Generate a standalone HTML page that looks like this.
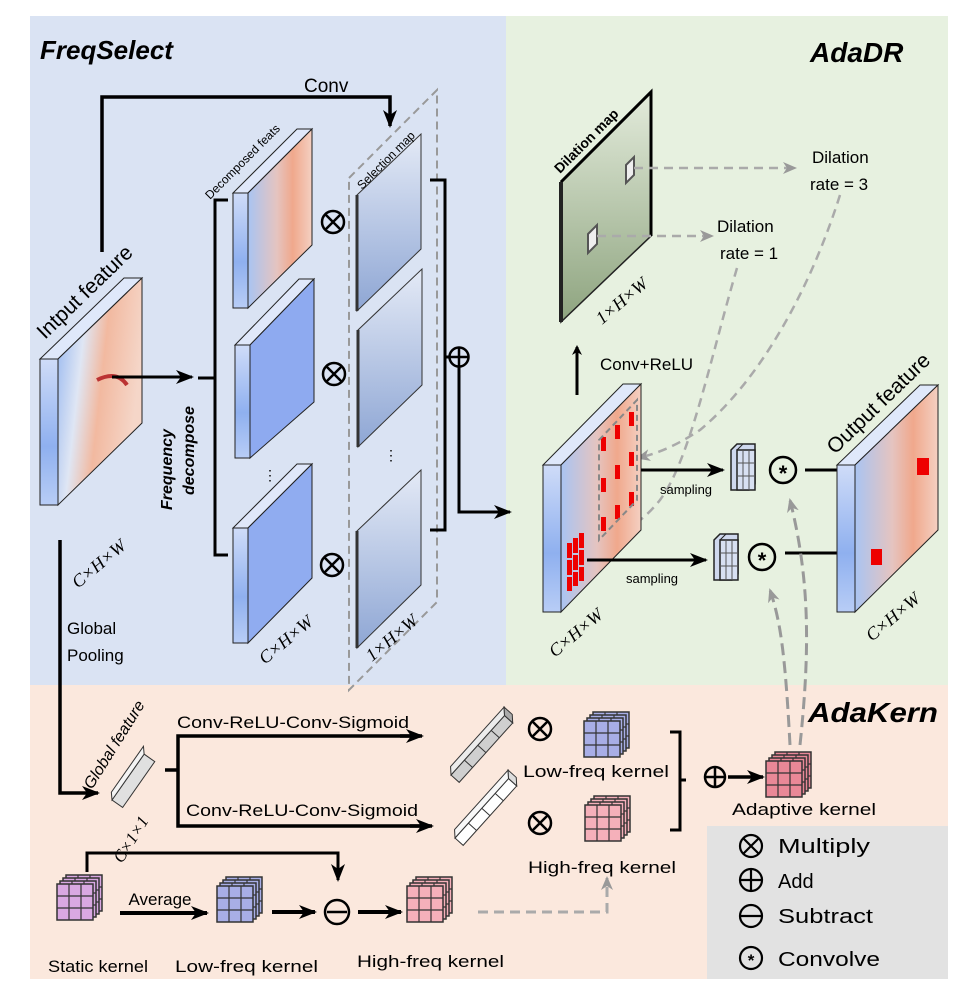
<!DOCTYPE html>
<html><head><meta charset="utf-8"><style>
html,body{margin:0;padding:0;background:#fff}
svg{display:block}
text{font-family:"Liberation Sans",sans-serif}
.s{font-family:"Liberation Serif",serif;font-style:italic}
</style></head><body>
<svg width="978" height="992" viewBox="0 0 978 992" xmlns="http://www.w3.org/2000/svg">
<defs>
<linearGradient id="heat" x1="0" y1="0" x2="1" y2="0.3">
<stop offset="0" stop-color="#8fb2ef"/><stop offset="0.35" stop-color="#dfe6f4"/><stop offset="0.6" stop-color="#f2b9a0"/><stop offset="1" stop-color="#f5d6c8"/></linearGradient>
<linearGradient id="heat2" x1="0" y1="0" x2="1" y2="0">
<stop offset="0" stop-color="#a9c4f2"/><stop offset="0.45" stop-color="#e5c4c0"/><stop offset="0.7" stop-color="#f0a88c"/><stop offset="1" stop-color="#f4d0c2"/></linearGradient>
<linearGradient id="side" x1="0" y1="0" x2="0" y2="1">
<stop offset="0" stop-color="#cfdcf8"/><stop offset="0.6" stop-color="#8fb0ef"/><stop offset="1" stop-color="#b8cdf6"/></linearGradient>
<linearGradient id="sel" x1="0" y1="0" x2="0" y2="1">
<stop offset="0" stop-color="#e4eaf6"/><stop offset="1" stop-color="#8ea6d4"/></linearGradient>
<linearGradient id="dil" x1="0" y1="0" x2="0" y2="1">
<stop offset="0" stop-color="#e3ebdb"/><stop offset="1" stop-color="#8ea47f"/></linearGradient>
<marker id="ar" markerWidth="10" markerHeight="10" refX="8" refY="5" orient="auto" markerUnits="userSpaceOnUse"><path d="M0,0 L10,5 L0,10 L3,5z" fill="#000"/></marker>
<marker id="ag" markerWidth="14" markerHeight="12" refX="12" refY="6" orient="auto" markerUnits="userSpaceOnUse"><path d="M0,0 L14,6 L0,12 L4,6z" fill="#999"/></marker>
<marker id="ab" markerWidth="18" markerHeight="14" refX="16" refY="7" orient="auto" markerUnits="userSpaceOnUse"><path d="M0,0 L18,7 L0,14 L5,7z" fill="#000"/></marker>
<g id="grid"><rect x="0" y="0" width="36" height="36" stroke="#333" stroke-width="1.5"/><path d="M12,0V36M24,0V36M0,12H36M0,24H36" stroke="#333" stroke-width="1.2"/></g>
<g id="smallk"><polygon points="0,10 6,4 24,4 24,44 18,50 0,50" fill="#cfd8ee" stroke="#222" stroke-width="1.5"/><rect x="6" y="10" width="18" height="40" fill="#d8e0f2" stroke="#222" stroke-width="1.5"/><path d="M6,10 L12,4 M24,10 L24,4" stroke="#222"/><path d="M12,10V50M18,10V50M6,23H24M6,36H24" stroke="#555"/></g>
</defs>

<rect x="30" y="16" width="476" height="669" fill="#dae3f3"/>
<rect x="506" y="16" width="442" height="669" fill="#e7f1e0"/>
<rect x="30" y="685" width="918" height="294" fill="#fbe8dd"/>
<rect x="707" y="826" width="241" height="153" fill="#e2e2e2"/>

<text x="40" y="59" font-size="26" font-weight="bold" font-style="italic">FreqSelect</text>
<text x="810" y="62" font-size="28" font-weight="bold" font-style="italic">AdaDR</text>
<text x="808" y="722" font-size="28" font-weight="bold" font-style="italic" textLength="130" lengthAdjust="spacingAndGlyphs">AdaKern</text>

<path d="M102,252 V97 H390 V126" fill="none" stroke="#000" stroke-width="3.5" marker-end="url(#ab)"/>
<text x="304" y="92" font-size="19">Conv</text>

<polygon points="349,178 437,90 437,602 349,690" fill="none" stroke="#999" stroke-width="2" stroke-dasharray="8,5"/>

<polygon points="40,359 58,359 142,278 124,278" fill="#dfe8fa" stroke="#222" stroke-width="1"/>
<rect x="40" y="359" width="18" height="146" fill="url(#side)" stroke="#222" stroke-width="1"/>
<polygon points="58,359 142,278 142,423 58,505" fill="url(#heat)" stroke="#222" stroke-width="1"/>
<path d="M97,380 q20,-10 30,5" stroke="#b33" stroke-width="4" fill="none"/>
<text class="s" font-size="18" transform="translate(78,589) rotate(-40)">C×H×W</text>
<text font-size="21" transform="translate(45,340) rotate(-44)">Intput feature</text>

<path d="M112,377 H192" stroke="#000" stroke-width="3" marker-end="url(#ab)"/>
<path d="M198,378 H215 M228,200 H215 V555 H228" fill="none" stroke="#000" stroke-width="3"/>
<text font-size="16" font-weight="bold" font-style="italic" transform="translate(172,510) rotate(-90)">Frequency</text>
<text font-size="16" font-weight="bold" font-style="italic" transform="translate(194,495) rotate(-90)">decompose</text>

<g stroke="#222" stroke-width="1">
<polygon points="233,193 248,193 312,129 297,129" fill="#e0e8fa"/>
<rect x="233" y="193" width="15" height="115" fill="url(#side)"/>
<polygon points="248,193 312,129 312,245 248,308" fill="url(#heat2)"/>
<polygon points="235,345 250,345 314,279 299,279" fill="#e0e8fa"/>
<rect x="235" y="345" width="15" height="113" fill="url(#side)"/>
<polygon points="250,345 314,279 314,402 250,458" fill="#8eaaf0"/>
<polygon points="233,528 248,528 312,464 297,464" fill="#e0e8fa"/>
<rect x="233" y="528" width="15" height="115" fill="url(#side)"/>
<polygon points="248,528 312,464 312,578 248,643" fill="#90acf0"/>
</g>
<text font-size="12" transform="translate(210,200) rotate(-45)">Decomposed feats</text>
<text font-size="14" x="263" y="480">⋮</text>
<text class="s" font-size="18" transform="translate(265,665) rotate(-40)">C×H×W</text>

<g fill="none" stroke="#000" stroke-width="2.5">
<circle cx="333" cy="222" r="11"/><path d="M325,214 L341,230 M341,214 L325,230"/>
<circle cx="334" cy="374" r="11"/><path d="M326,366 L342,382 M342,366 L326,382"/>
<circle cx="332" cy="565" r="11"/><path d="M324,557 L340,573 M340,557 L324,573"/>
</g>

<g stroke="#333" stroke-width="1">
<polygon points="357,195 421,134 421,249 357,311" fill="url(#sel)"/>
<polygon points="358,330 422,269 422,385 358,447" fill="url(#sel)"/>
<polygon points="357,531 421,470 421,585 357,648" fill="url(#sel)"/>
</g>
<path d="M357,195 V311 M358,330 V447 M357,531 V648" stroke="#333" stroke-width="3"/>
<text font-size="12" transform="translate(362,190) rotate(-45)">Selection map</text>
<text font-size="14" x="384" y="460">⋮</text>
<text class="s" font-size="18" transform="translate(372,662) rotate(-40)">1×H×W</text>

<path d="M430,180 H445 V530 H430 M445,357 H450" fill="none" stroke="#000" stroke-width="3"/>
<circle cx="459" cy="357" r="9.5" fill="none" stroke="#000" stroke-width="2.5"/>
<path d="M449.5,357 H468.5 M459,347.5 V366.5" stroke="#000" stroke-width="2.5"/>
<path d="M459,367 V512 H510" fill="none" stroke="#000" stroke-width="3" marker-end="url(#ab)"/>

<path d="M60,540 V793 H98" fill="none" stroke="#000" stroke-width="3.5" marker-end="url(#ab)"/>
<text x="67" y="634" font-size="17">Global</text>
<text x="67" y="661" font-size="17">Pooling</text>

<polygon points="561,182 651,92 651,236 561,322" fill="url(#dil)" stroke="#222" stroke-width="1.5"/>
<path d="M561,182 L651,92 V236" fill="none" stroke="#000" stroke-width="3"/>
<path d="M561,182 V322" stroke="#222" stroke-width="4"/>
<polygon points="626,165 634,157 634,175 626,183" fill="#eee" stroke="#555" stroke-width="2"/>
<polygon points="588,234 597,225 597,244 588,253" fill="#eee" stroke="#555" stroke-width="2"/>
<text font-size="14" font-weight="bold" transform="translate(560,174) rotate(-45)">Dilation map</text>
<text class="s" font-size="18" transform="translate(602,325) rotate(-40)">1×H×W</text>
<g stroke="#aaa" stroke-width="2.5" stroke-dasharray="9,6" fill="none">
<path d="M634,168 H795" marker-end="url(#ag)"/>
<path d="M597,236 H712" marker-end="url(#ag)"/>
<path d="M840,195 C810,290 760,380 700,430 C670,450 650,455 638,458" marker-end="url(#ag)"/>
<path d="M737,268 C710,360 690,460 660,500 C640,525 620,535 590,545" marker-end="url(#ag)"/>
</g>
<text x="812" y="163" font-size="17">Dilation</text>
<text x="810" y="190" font-size="17">rate = 3</text>
<text x="717" y="232" font-size="17">Dilation</text>
<text x="720" y="259" font-size="17">rate = 1</text>

<path d="M577,395 V347" stroke="#000" stroke-width="3" marker-end="url(#ar)"/>
<text x="600" y="370" font-size="17">Conv+ReLU</text>

<polygon points="543,465 561,465 641,384 623,384" fill="#dfe8fa" stroke="#222"/>
<rect x="543" y="465" width="18" height="147" fill="url(#side)" stroke="#222"/>
<polygon points="561,465 641,384 641,530 561,612" fill="url(#heat2)" stroke="#222"/>
<g fill="#e00">
<rect x="601" y="437" width="5" height="14"/><rect x="615" y="425" width="5" height="14"/><rect x="629" y="412" width="5" height="14"/>
<rect x="601" y="478" width="5" height="14"/><rect x="615" y="465" width="5" height="14"/><rect x="629" y="452" width="5" height="14"/>
<rect x="601" y="517" width="5" height="14"/><rect x="615" y="505" width="5" height="14"/><rect x="629" y="492" width="5" height="14"/>
<rect x="567" y="543" width="5" height="15"/><rect x="573" y="538" width="5" height="15"/><rect x="579" y="533" width="5" height="15"/>
<rect x="567" y="560" width="5" height="15"/><rect x="573" y="555" width="5" height="15"/><rect x="579" y="550" width="5" height="15"/>
<rect x="567" y="577" width="5" height="14"/><rect x="573" y="572" width="5" height="14"/><rect x="579" y="567" width="5" height="14"/>
</g>
<polygon points="599,440 637,400 637,500 599,540" fill="none" stroke="#888" stroke-width="2" stroke-dasharray="6,4"/>
<text class="s" font-size="18" transform="translate(555,658) rotate(-40)">C×H×W</text>

<path d="M641,470 H723" stroke="#000" stroke-width="3" marker-end="url(#ab)"/>
<path d="M587,560 H706" stroke="#000" stroke-width="3" marker-end="url(#ab)"/>
<text x="660" y="494" font-size="13">sampling</text>
<text x="626" y="583" font-size="13">sampling</text>
<use href="#smallk" x="731" y="440"/>
<use href="#smallk" x="714" y="530"/>
<g fill="none" stroke="#000" stroke-width="2.5">
<circle cx="783" cy="470" r="13"/><circle cx="762" cy="557" r="13"/></g>
<text x="783" y="481" font-size="22" font-weight="bold" text-anchor="middle">*</text>
<text x="762" y="568" font-size="22" font-weight="bold" text-anchor="middle">*</text>
<path d="M805,470 H922" stroke="#000" stroke-width="3" marker-end="url(#ab)"/>
<path d="M785,553 H861" stroke="#000" stroke-width="3" marker-end="url(#ab)"/>

<polygon points="837,465 855,465 938,385 920,385" fill="#dfe8fa" stroke="#222"/>
<rect x="837" y="465" width="18" height="147" fill="url(#side)" stroke="#222"/>
<polygon points="855,465 938,385 938,530 855,612" fill="url(#heat2)" stroke="#222"/>
<rect x="917" y="458" width="12" height="17" fill="#e00"/>
<rect x="871" y="549" width="11" height="16" fill="#e00"/>
<text font-size="21" transform="translate(835,455) rotate(-44)">Output feature</text>
<text class="s" font-size="18" transform="translate(872,642) rotate(-40)">C×H×W</text>

<g stroke="#999" stroke-width="3" stroke-dasharray="12,6" fill="none">
<path d="M800,745 C810,650 810,580 790,500" marker-end="url(#ag)"/>
<path d="M790,745 C785,650 780,620 770,590" marker-end="url(#ag)"/>
</g>

<g transform="translate(112,800) rotate(-55)">
<rect x="0" y="0" width="56" height="13" fill="#e0e0e0" stroke="#333"/>
<polygon points="0,0 56,0 62,-5 6,-5" fill="#f4f4f4" stroke="#333"/>
</g>
<text font-size="16" font-style="italic" transform="translate(92,790) rotate(-58)">Global feature</text>
<text class="s" font-size="17" transform="translate(122,864) rotate(-58)">C×1×1</text>
<path d="M165,770 H178 M420,736 H178 V826 H430" fill="none" stroke="#000" stroke-width="3.5"/>
<path d="M400,736 H422" stroke="#000" stroke-width="3.5" marker-end="url(#ab)"/>
<path d="M410,826 H432" stroke="#000" stroke-width="3.5" marker-end="url(#ab)"/>
<text x="177" y="728" font-size="17" textLength="232" lengthAdjust="spacingAndGlyphs">Conv-ReLU-Conv-Sigmoid</text>
<text x="186" y="816" font-size="17" textLength="232" lengthAdjust="spacingAndGlyphs">Conv-ReLU-Conv-Sigmoid</text>
<g transform="translate(451,775) rotate(-48)" stroke="#333">
<rect x="0" y="0" width="80" height="11" fill="#cfcfcf"/><polygon points="0,0 80,0 86,-6 6,-6" fill="#ececec"/><polygon points="80,0 86,-6 86,5 80,11" fill="#aaa"/>
<path d="M20,0V11M40,0V11M60,0V11"/></g>
<g transform="translate(455,838) rotate(-48)" stroke="#333">
<rect x="0" y="0" width="80" height="11" fill="#fff"/><polygon points="0,0 80,0 86,-6 6,-6" fill="#f8f8f8"/><polygon points="80,0 86,-6 86,5 80,11" fill="#ddd"/>
<path d="M20,0V11M40,0V11M60,0V11"/></g>
<g fill="none" stroke="#000" stroke-width="2.5">
<circle cx="540" cy="729" r="11"/><path d="M532,721 L548,737 M548,721 L532,737"/>
<circle cx="540" cy="823" r="11"/><path d="M532,815 L548,831 M548,815 L532,831"/>
</g>
<g fill="#a8aee6"><use href="#grid" x="593" y="712"/><use href="#grid" x="590" y="715"/><use href="#grid" x="587" y="718"/><use href="#grid" x="584" y="721"/></g>
<g fill="#f5b0ba"><use href="#grid" x="594" y="796"/><use href="#grid" x="591" y="799"/><use href="#grid" x="588" y="802"/><use href="#grid" x="585" y="805"/></g>
<text x="523" y="777" font-size="17" textLength="146" lengthAdjust="spacingAndGlyphs">Low-freq kernel</text>
<text x="528" y="873" font-size="17" textLength="148" lengthAdjust="spacingAndGlyphs">High-freq kernel</text>
<path d="M670,732 H680 V830 H670 M680,780 H686" fill="none" stroke="#000" stroke-width="3"/>
<circle cx="715" cy="777" r="10" fill="none" stroke="#000" stroke-width="2.5"/>
<path d="M705,777 H725 M715,767 V787" stroke="#000" stroke-width="2.5"/>
<path d="M728,777 H763" stroke="#000" stroke-width="3.5" marker-end="url(#ab)"/>
<g fill="#e98897"><use href="#grid" x="775" y="752"/><use href="#grid" x="772" y="755"/><use href="#grid" x="769" y="758"/><use href="#grid" x="766" y="761"/></g>
<text x="732" y="815" font-size="17" textLength="144" lengthAdjust="spacingAndGlyphs">Adaptive kernel</text>

<path d="M87,872 V853 H338 V880" fill="none" stroke="#000" stroke-width="3" marker-end="url(#ab)"/>
<g fill="#d9a8e2"><use href="#grid" x="66" y="875"/><use href="#grid" x="63" y="878"/><use href="#grid" x="60" y="881"/><use href="#grid" x="57" y="884"/></g>
<text x="160" y="905" font-size="17" text-anchor="middle">Average</text>
<path d="M120,913 H207" stroke="#000" stroke-width="4" marker-end="url(#ab)"/>
<g fill="#a8aee6"><use href="#grid" x="226" y="877"/><use href="#grid" x="223" y="880"/><use href="#grid" x="220" y="883"/><use href="#grid" x="217" y="886"/></g>
<path d="M272,912 H315" stroke="#000" stroke-width="4" marker-end="url(#ab)"/>
<circle cx="337" cy="912" r="12" fill="none" stroke="#000" stroke-width="2.5"/>
<path d="M327,912 H347" stroke="#000" stroke-width="2.5"/>
<path d="M358,912 H401" stroke="#000" stroke-width="4" marker-end="url(#ab)"/>
<g fill="#f5b0ba"><use href="#grid" x="416" y="877"/><use href="#grid" x="413" y="880"/><use href="#grid" x="410" y="883"/><use href="#grid" x="407" y="886"/></g>
<path d="M478,912 H607 V878" fill="none" stroke="#aaa" stroke-width="3" stroke-dasharray="10,6" marker-end="url(#ag)"/>
<text x="48" y="972" font-size="17" textLength="100" lengthAdjust="spacingAndGlyphs">Static kernel</text>
<text x="175" y="972" font-size="17" textLength="143" lengthAdjust="spacingAndGlyphs">Low-freq kernel</text>
<text x="357" y="967" font-size="17" textLength="147" lengthAdjust="spacingAndGlyphs">High-freq kernel</text>

<g fill="none" stroke="#000" stroke-width="2.2">
<circle cx="751" cy="846" r="11"/><path d="M743,838 L759,854 M759,838 L743,854"/>
<circle cx="751" cy="880" r="11"/><path d="M740,880 H762 M751,869 V891"/>
<circle cx="751" cy="916" r="11"/><path d="M740,916 H762"/>
<circle cx="751" cy="958" r="11"/>
</g>
<text x="751" y="966" font-size="17" font-weight="bold" text-anchor="middle">*</text>
<text x="778" y="853" font-size="20" textLength="92" lengthAdjust="spacingAndGlyphs">Multiply</text>
<text x="778" y="888" font-size="20">Add</text>
<text x="778" y="923" font-size="20" textLength="95" lengthAdjust="spacingAndGlyphs">Subtract</text>
<text x="778" y="966" font-size="20" textLength="102" lengthAdjust="spacingAndGlyphs">Convolve</text>
</svg>
</body></html>
